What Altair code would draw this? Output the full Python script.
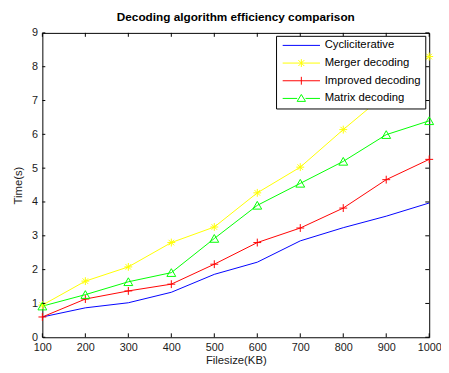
import altair as alt
import pandas as pd

# ---- data ----
filesize = [100, 200, 300, 400, 500, 600, 700, 800, 900, 1000]
cyclic = [0.60, 0.87, 1.02, 1.33, 1.86, 2.22, 2.85, 3.24, 3.58, 3.97]
merger = [0.95, 1.66, 2.08, 2.80, 3.26, 4.27, 5.03, 6.14, 7.20, 8.30]
improved = [0.60, 1.13, 1.37, 1.57, 2.16, 2.80, 3.23, 3.82, 4.66, 5.26]
matrix = [0.92, 1.26, 1.64, 1.91, 2.92, 3.90, 4.55, 5.20, 5.99, 6.40]
series_names = ["Cycliciterative", "Merger decoding", "Improved decoding", "Matrix decoding"]
series_colors = ["#0000ff", "#ffff00", "#ff0000", "#00ff00"]
x_ticks = [100, 200, 300, 400, 500, 600, 700, 800, 900, 1000]
y_ticks = [0, 1, 2, 3, 4, 5, 6, 7, 8, 9]

rows = []
for name, vals in zip(series_names, [cyclic, merger, improved, matrix]):
    for x, y in zip(filesize, vals):
        rows.append({"Filesize": x, "Time": y, "series": name})
df = pd.DataFrame(rows)
xt = pd.DataFrame({"Filesize": x_ticks})
yt = pd.DataFrame({"Time": y_ticks})

W, H = 394, 310
FONT = "Liberation Sans"

xscale = alt.Scale(domain=[100, 1000], nice=False, zero=False)
yscale = alt.Scale(domain=[0, 9], nice=False, zero=False)
cscale = alt.Scale(domain=series_names, range=series_colors)

# marker paths
PLUS = "M-1,0L1,0M0,-1L0,1"
STAR = "M-1,0L1,0M0,-1L0,1M-0.7,-0.7L0.7,0.7M-0.7,0.7L0.7,-0.7"
TRI = "M-1,0.85L0,-0.9L1,0.85Z"

# legend symbols: line sample + marker
legend_paths = [
    "M-3.8,0L3.8,0",
    "M-3.8,0L3.8,0M0,-0.8L0,0.8M-0.6,-0.6L0.6,0.6M-0.6,0.6L0.6,-0.6",
    "M-3.8,0L3.8,0M0,-0.8L0,0.8",
    "M-3.8,0L-0.85,0M0.85,0L3.8,0M-0.85,0.6L0,-0.8L0.85,0.6Z",
]

xaxis = alt.Axis(values=x_ticks, title="Filesize(KB)", format="d", domain=False, ticks=False, grid=False,
                 labelPadding=4, labelFontSize=11, labelFont=FONT, labelColor="#1a1a1a",
                 titleFont=FONT, titleFontSize=11.5, titleFontWeight="normal", titleColor="#1a1a1a",
                 titlePadding=3, labelFlush=False, labelOverlap=False)
yaxis = alt.Axis(values=y_ticks, title="Time(s)", format="d", domain=False, ticks=False, grid=False,
                 labelPadding=5, labelFontSize=11, labelFont=FONT, labelColor="#1a1a1a",
                 titleFont=FONT, titleFontSize=11.5, titleFontWeight="normal", titleColor="#1a1a1a",
                 titlePadding=8, labelFlush=False, labelOverlap=False)

legend = alt.Legend(orient="none", legendX=238, legendY=3, title=None,
                    strokeColor="black", fillColor="white", padding=4, cornerRadius=0,
                    labelFont=FONT, labelFontSize=11.5, labelColor="black",
                    symbolOffset=16, labelOffset=18, symbolSize=100, symbolStrokeWidth=1,
                    symbolOpacity=1, rowPadding=5)

X = alt.X("Filesize:Q", scale=xscale, axis=xaxis)
Y = alt.Y("Time:Q", scale=yscale, axis=yaxis)
C = alt.Color("series:N", scale=cscale, legend=legend)

# legend provider (invisible marks; legend drawn from the scales)
legend_layer = alt.Chart(df).mark_point(filled=False, strokeWidth=1, opacity=0).encode(
    x=X, y=Y, color=C,
    shape=alt.Shape("series:N", scale=alt.Scale(domain=series_names, range=legend_paths), legend=legend),
)

lines = alt.Chart(df).mark_line(strokeWidth=1).encode(
    x=X, y=Y, color=C, order="Filesize:Q", detail="series:N"
)

def pts(name, path, size):
    return alt.Chart(df).transform_filter(alt.datum.series == name).mark_point(
        shape=path, size=size, filled=False, strokeWidth=1, opacity=1
    ).encode(x=X, y=Y, color=C)

p_merger = pts("Merger decoding", STAR, 64)
p_improved = pts("Improved decoding", PLUS, 64)
p_matrix = pts("Matrix decoding", TRI, 81)

# inward tick marks on all four sides
tb = alt.Chart(xt).mark_rule(color="black", strokeWidth=1).encode(
    x=X, y=alt.value(H), y2=alt.value(H - 4))
tt = alt.Chart(xt).mark_rule(color="black", strokeWidth=1).encode(
    x=X, y=alt.value(0), y2=alt.value(4))
tl = alt.Chart(yt).mark_rule(color="black", strokeWidth=1).encode(
    y=Y, x=alt.value(0), x2=alt.value(3))
tr = alt.Chart(yt).mark_rule(color="black", strokeWidth=1).encode(
    y=Y, x=alt.value(W), x2=alt.value(W - 4))

chart = alt.layer(legend_layer, lines, p_merger, p_improved, p_matrix, tb, tt, tl, tr).properties(
    width=W, height=H,
    title=alt.TitleParams("Decoding algorithm efficiency comparison", font=FONT, fontSize=12,
                          fontWeight="bold", color="black", anchor="middle", offset=2, dy=8,
                          baseline="alphabetic"),
    autosize=alt.AutoSizeParams(type="none"),
    padding={"left": 35, "top": 22, "right": 12, "bottom": 30},
    background="white",
).configure_view(stroke="black", strokeWidth=1)

chart.save("out.html", embed_options={"renderer": "svg", "actions": False})
